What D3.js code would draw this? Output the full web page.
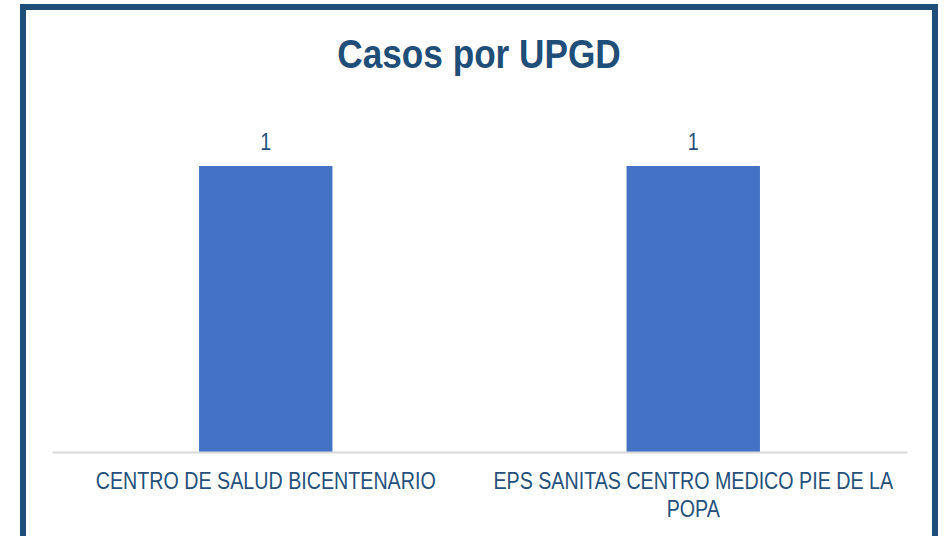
<!DOCTYPE html>
<html>
  <head>
    <title>Casos por UPGD</title>
    <script src="https://d3js.org/d3.v7.min.js"></script>
    <style>
      body { margin: 0; background: white; }
      text { font-family: "Liberation Sans", Arial, sans-serif; }
    </style>
  </head>
  <body>
    <svg width="948" height="536"></svg>
    <script>
      // chart data
      var categories = ["CENTRO DE SALUD BICENTENARIO", "EPS SANITAS CENTRO MEDICO PIE DE LA POPA"];
      var values = [1, 1];
      var title = "Casos por UPGD";

      var svg = d3.select("svg");
      var textColor = "#24507a";
      var narrow = 0.82; // imitate Arial Narrow

      // outer frame
      svg.append("rect")
        .attr("x", 23).attr("y", 7)
        .attr("width", 912).attr("height", 560)
        .style("fill", "white")
        .style("stroke", "#1f4e79")
        .style("stroke-width", 6);

      var margin = { top: 166, left: 52, right: 41, bottom: 84 },
        width = 948 - margin.left - margin.right,
        height = 536 - margin.top - margin.bottom;

      var g = svg.append("g")
        .attr("transform", "translate(" + margin.left + "," + margin.top + ")");

      var x = d3.scaleBand().range([0, width]).domain(categories).padding(0);
      var y = d3.scaleLinear().range([height, 0]).domain([0, 1]);
      var barW = x.bandwidth() * 0.312;

      // bars
      g.selectAll("rect.bar")
        .data(values)
        .enter()
        .append("rect")
        .attr("class", "bar")
        .attr("x", function (d, i) { return x(categories[i]) + (x.bandwidth() - barW) / 2; })
        .attr("y", function (d) { return y(d); })
        .attr("width", barW)
        .attr("height", function (d) { return height - y(d); })
        .style("fill", "#4472c4");

      // value labels
      g.selectAll("text.value")
        .data(values)
        .enter()
        .append("text")
        .attr("class", "value")
        .attr("transform", function (d, i) {
          return "translate(" + (x(categories[i]) + x.bandwidth() / 2) + "," + (y(d) - 16) + ") scale(" + narrow + ",1)";
        })
        .style("text-anchor", "middle")
        .style("font-size", "24px")
        .style("fill", textColor)
        .text(function (d) { return d; });

      // x axis
      var xAxis = g.append("g")
        .attr("transform", "translate(0," + height + ")")
        .call(d3.axisBottom(x).tickSize(0).tickPadding(0));
      xAxis.select(".domain").style("stroke", "#d9d9d9").style("stroke-width", 2);
      xAxis.selectAll(".tick text").remove();

      // wrapped category labels
      xAxis.selectAll(".tick").each(function (d) {
        var tick = d3.select(this);
        var t = tick.append("text")
          .attr("transform", "translate(0,37) scale(" + narrow + ",1)")
          .style("text-anchor", "middle")
          .style("font-size", "24px")
          .style("fill", textColor);
        var words = d.split(" "), line = [];
        var maxW = (x.bandwidth() - 20) / narrow;
        var tspan = t.append("tspan").attr("x", 0).attr("dy", 0);
        words.forEach(function (w) {
          line.push(w);
          tspan.text(line.join(" "));
          if (tspan.node().getComputedTextLength() > maxW && line.length > 1) {
            line.pop();
            tspan.text(line.join(" "));
            line = [w];
            tspan = t.append("tspan").attr("x", 0).attr("dy", "1.15em").text(w);
          }
        });
      });

      // title
      svg.append("text")
        .attr("transform", "translate(479,68) scale(0.88,1)")
        .style("text-anchor", "middle")
        .style("font-size", "40px")
        .style("font-weight", "bold")
        .style("fill", "#1f4e79")
        .text(title);
    </script>
  </body>
</html>
